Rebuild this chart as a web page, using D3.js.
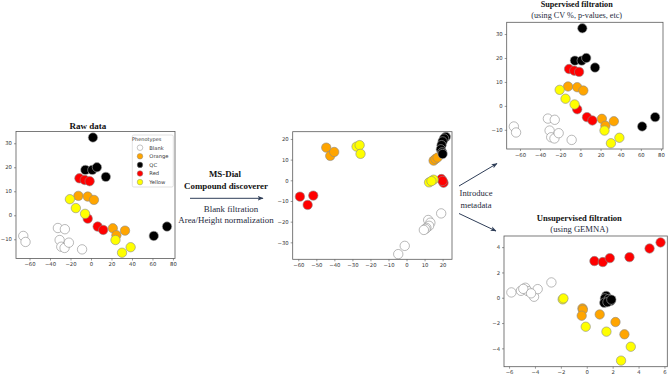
<!DOCTYPE html>
<html>
<head>
<meta charset="utf-8">
<script src="https://cdn.jsdelivr.net/npm/d3@7"></script>
<style>
  body { margin: 0; background: #fff; }
  svg { display: block; }
</style>
</head>
<body>
<script>
// phenotype groups, in drawing order (same as legend)
const groups = ["Blank", "Orange", "QC", "Red", "Yellow"];
const groupColors = ["#ffffff", "#ffa500", "#000000", "#ff0000", "#ffff00"];

// raw data (also shown unchanged as the supervised-filtration plot)
const rawBlank = [[-66.1, -8.6], [-63.9, -11.1], [-32.3, -5.3], [-25.5, -5.8], [-30.6, -10.3], [-29, -13.1], [-25.8, -13.6], [-21.6, -11.4], [-8.7, -14.2]];
const rawOrange = [[-12.3, 8.1], [-3.2, 7.8], [2.9, 6.4], [21.3, -5.4], [24.8, -8.3], [33.2, -6.4]];
const rawQC = [[1.9, 32.4], [-5.5, 18.9], [1.3, 18.9], [5.8, 20], [14.5, 16], [61.3, -8.6], [74.2, -4.7]];
const rawRed = [[-11.3, 15.4], [-6.1, 14.7], [-1.3, 14.2], [-3.2, -1.4], [6.5, -4.7], [11.9, -6.1]];
const rawYellow = [[-20.6, 6.7], [-14.8, 3], [-5.8, 0.6], [23.9, -10.3], [30.3, -15.6], [38.7, -13.3]];

// after MS-Dial / Compound discoverer
const msBlank = [[19.2, -16], [12, -19.2], [13.2, -20.5], [12.5, -22], [11, -23], [10.5, -23.5], [9.6, -24], [-1, -31.7], [-4.6, -35.7]];
const msOrange = [[-44.5, 15.8], [-42.3, 11.8], [-40.1, 13.7], [15, 9.5], [16, 10.3], [17.2, 11]];
const msQC = [[21.8, 21], [20.8, 20.2], [20, 18.8], [19.4, 17], [19, 15], [19.8, 13.5], [20, 12.7]];
const msRed = [[-59.1, -7.9], [-54.8, -11.9], [-51.7, -7.4], [19.3, 0.6], [20.5, -1.2], [20, -0.3]];
const msYellow = [[-27.7, 16.3], [-26, 17], [-25.5, 12.8], [12.5, -1], [15, 0.3], [13.8, -0.4]];

// unsupervised filtration (GEMNA)
const unsBlank = [[-5.82, 0.42], [-5.08, 0.55], [-4.74, 0.79], [-4.56, 0.53], [-4.07, 0.08], [-3.79, 0.68], [-2.73, 1.21], [-4.9, 0.7], [-4.3, 0.35]];
const unsOrange = [[-0.33, -0.84], [-0.3, -0.95], [-0.39, -1.42], [1.0, -1.32], [2.22, -1.92], [2.91, -2.89]];
const unsQC = [[1.5, 0.15], [1.4, -0.05], [1.7, -0.1], [1.85, -0.25], [1.35, -0.4], [1.6, -0.35], [1.9, -0.15]];
const unsRed = [[0.59, 2.9], [1.24, 2.82], [1.78, 3.13], [3.3, 3.21], [4.85, 3.89], [5.7, 4.37]];
const unsYellow = [[-1.86, -0.13], [-1.8, -0.05], [-0.08, -2.29], [1.52, -2.68], [3.4, -3.87], [2.65, -4.97]];

// tick values
const tsneXTicks = [-60, -40, -20, 0, 20, 40, 60, 80];
const tsneYTicks = [-10, 0, 10, 20, 30];
const msXTicks = [-60, -50, -40, -30, -20, -10, 0, 10, 20];
const msYTicks = [-30, -20, -10, 0, 10, 20];
const unsXTicks = [-6, -4, -2, 0, 2, 4, 6];
const unsYTicks = [-4, -2, 0, 2, 4];

const serif = "'Liberation Serif', 'Times New Roman', serif";
const sans = "'DejaVu Sans', sans-serif";
const ink = "#1e2a3c";

const svg = d3.select("body").append("svg")
  .attr("width", 670)
  .attr("height", 377);

const defs = svg.append("defs");
defs.append("marker")
  .attr("id", "head")
  .attr("viewBox", "0 0 10 10")
  .attr("refX", 9).attr("refY", 5)
  .attr("markerWidth", 6).attr("markerHeight", 6)
  .attr("orient", "auto")
  .append("path")
  .attr("d", "M0,1 L10,5 L0,9 L2.5,5 Z")
  .attr("fill", "#2f3e58");

function panel(o) {
  const x = d3.scaleLinear().domain(o.xd).range([o.l, o.r]);
  const y = d3.scaleLinear().domain(o.yd).range([o.b, o.t]);
  const g = svg.append("g");

  const xAxis = g.append("g")
    .attr("transform", "translate(0," + o.b + ")")
    .call(d3.axisBottom(x).tickValues(o.xt).tickSize(2).tickPadding(2));
  const yAxis = g.append("g")
    .attr("transform", "translate(" + o.l + ",0)")
    .call(d3.axisLeft(y).tickValues(o.yt).tickSize(2).tickPadding(2));
  [xAxis, yAxis].forEach(a => {
    a.select(".domain").remove();
    a.selectAll("line").attr("stroke", "#555").attr("stroke-width", 0.6);
    a.selectAll("text")
      .attr("fill", "#333")
      .style("font-family", sans)
      .style("font-size", "5.3px");
  });

  // one layer per phenotype, like matplotlib draws them
  o.data.forEach((pts, i) => {
    g.append("g").selectAll("circle")
      .data(pts)
      .join("circle")
      .attr("cx", d => x(d[0]))
      .attr("cy", d => y(d[1]))
      .attr("r", 4.7)
      .attr("fill", groupColors[i])
      .attr("stroke", i == 2 ? "#aaa" : "#8a8a8a")
      .attr("stroke-width", 0.6);
  });

  g.append("rect")
    .attr("x", o.l).attr("y", o.t)
    .attr("width", o.r - o.l).attr("height", o.b - o.t)
    .attr("fill", "none")
    .attr("stroke", "#5a5a5a")
    .attr("stroke-width", 0.8);
  return g;
}

// Raw data
const p1 = panel({
  l: 16, r: 175, t: 131.5, b: 258.5,
  xd: [-73.2, 82], yd: [-18, 34.9],
  xt: tsneXTicks, yt: tsneYTicks,
  data: [rawBlank, rawOrange, rawQC, rawRed, rawYellow]
});

// legend
const leg = p1.append("g");
leg.append("rect")
  .attr("x", 132.3).attr("y", 135)
  .attr("width", 41).attr("height", 52)
  .attr("rx", 1.5)
  .attr("fill", "#fff").attr("fill-opacity", 0.85)
  .attr("stroke", "#cfcfcf").attr("stroke-width", 0.6);
leg.append("text")
  .attr("x", 146.7).attr("y", 140.8)
  .attr("text-anchor", "middle")
  .style("font-family", sans).style("font-size", "5px")
  .attr("fill", "#333")
  .text("Phenotypes");
groups.forEach((name, i) => {
  const yy = 147.7 + i * 8.6;
  leg.append("circle")
    .attr("cx", 140).attr("cy", yy).attr("r", 2.8)
    .attr("fill", groupColors[i])
    .attr("stroke", "#8a8a8a").attr("stroke-width", 0.5);
  leg.append("text")
    .attr("x", 149.3).attr("y", yy + 1.8)
    .style("font-family", sans).style("font-size", "5.2px")
    .attr("fill", "#333")
    .text(name);
});

svg.append("text")
  .attr("x", 88).attr("y", 128.5)
  .attr("text-anchor", "middle")
  .style("font-family", serif).style("font-size", "9px").style("font-weight", "bold")
  .attr("fill", "#111")
  .text("Raw data");

// MS-Dial
panel({
  l: 292.7, r: 452, t: 131.7, b: 259.3,
  xd: [-63.1, 25.2], yd: [-38.2, 23.5],
  xt: msXTicks, yt: msYTicks,
  data: [msBlank, msOrange, msQC, msRed, msYellow]
});

// Supervised filtration (same projection as raw data)
panel({
  l: 506.7, r: 663, t: 22.3, b: 149,
  xd: [-73.2, 82], yd: [-18, 34.9],
  xt: tsneXTicks, yt: tsneYTicks,
  data: [rawBlank, rawOrange, rawQC, rawRed, rawYellow]
});

// Unsupervised filtration
panel({
  l: 504, r: 667.3, t: 236, b: 366.7,
  xd: [-6.39, 6.22], yd: [-5.45, 4.88],
  xt: unsXTicks, yt: unsYTicks,
  data: [unsBlank, unsOrange, unsQC, unsRed, unsYellow]
});

// titles
function label(x, y, txt, size, bold) {
  svg.append("text")
    .attr("x", x).attr("y", y)
    .attr("text-anchor", "middle")
    .style("font-family", serif)
    .style("font-size", size + "px")
    .style("font-weight", bold ? "bold" : "normal")
    .attr("fill", bold ? "#111" : ink)
    .text(txt);
}
label(576.7, 7, "Supervised filtration", 8.2, true);
label(576.7, 18, "(using CV %, p-values, etc)", 8.2, false);
label(579.3, 221.3, "Unsupervised filtration", 8.6, true);
label(579.3, 232.3, "(using GEMNA)", 8.6, false);

label(225, 177, "MS-Dial", 8.9, true);
label(226, 189, "Compound discoverer", 8.9, true);
label(231, 211.5, "Blank filtration", 8.9, false);
label(226, 223, "Area/Height normalization", 8.9, false);

label(476, 196.3, "Introduce", 8.6, false);
label(476, 208, "metadata", 8.6, false);

// arrows
function arrow(x1, y1, x2, y2) {
  svg.append("line")
    .attr("x1", x1).attr("y1", y1)
    .attr("x2", x2).attr("y2", y2)
    .attr("stroke", "#2f3e58")
    .attr("stroke-width", 1)
    .attr("marker-end", "url(#head)");
}
arrow(190, 198.3, 263, 198.3);
arrow(459, 186, 497, 163.5);
arrow(459, 213.5, 496, 231);
</script>
</body>
</html>
